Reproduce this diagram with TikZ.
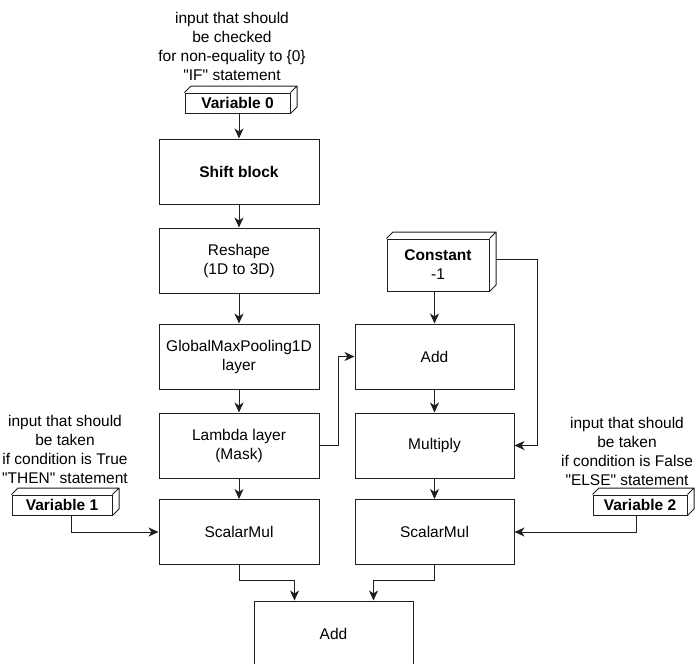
\documentclass[tikz,border=0pt]{standalone}
\usepackage{fontspec}
\setmainfont[Ligatures=TeXOff]{Liberation Sans}
\usetikzlibrary{arrows.meta}
\definecolor{ln}{RGB}{30,30,30}
\newcommand{\cubedeco}[1]{%
  \draw[ln,line width=1pt,line join=round] (#1.north west) -- ++(6.5,-6.5) -- ([shift={(6.5,-6.5)}]#1.north east) -- ([shift={(6.5,-6.5)}]#1.south east) -- (#1.south east) (#1.north east) -- ++(6.5,-6.5);}
\begin{document}
\begin{tikzpicture}[x=1pt,y=-1pt,
  font=\fontsize{15.5}{19}\selectfont,
  box/.style={draw=ln,line width=1pt,minimum width=160pt,minimum height=65pt,align=center,inner sep=0pt},
  cube/.style={draw=ln,line width=1pt,minimum height=20pt,inner sep=0pt,align=center},
  arr/.style={ln,line width=1pt,-{Stealth[length=10pt,width=9pt,inset=3pt]}},
  lbl/.style={align=center,inner sep=0pt}]
\useasboundingbox (0,0) rectangle (699,664);

% labels
\node[lbl] (t0) at (232,46) {input that should\\be checked\\for non-equality to \{0\}\\"IF" statement};
\node[lbl] (t1) at (65,449) {input that should\\be taken\\if condition is True\\"THEN" statement};
\node[lbl] (t2) at (627,451) {input that should\\be taken\\if condition is False\\"ELSE" statement};

% cuboids
\node[cube,minimum width=105pt] (v0) at (237.5,103) {\textbf{Variable 0}};
\cubedeco{v0}
\node[cube,minimum width=100pt] (v1) at (62,505) {\textbf{Variable 1}};
\cubedeco{v1}
\node[cube,minimum width=94pt] (v2) at (640,505) {\textbf{Variable 2}};
\cubedeco{v2}
\node[cube,minimum width=102pt,minimum height=52pt] (const) at (438,265) {\textbf{Constant}\\-1};
\cubedeco{const}

% left column
\node[box] (shift) at (239,171.5) {\textbf{Shift block}};
\node[box] (reshape) at (239,260.5) {Reshape\\(1D to 3D)};
\node[box] (gmp) at (239,356.5) {GlobalMaxPooling1D\\layer};
\node[box] (lambda) at (239,445.5) {Lambda layer\\(Mask)};
\node[box] (sm1) at (239,532) {ScalarMul};

% right column
\node[box,minimum width=159pt] (add1) at (434.5,356.5) {Add};
\node[box,minimum width=159pt] (mult) at (434.5,445.5) {Multiply};
\node[box,minimum width=159pt] (sm2) at (434.5,532) {ScalarMul};

% bottom
\node[box,minimum width=159pt] (addb) at (333.5,633.5) {Add};

% connectors
\draw[arr] (shift.north |- v0.south) -- (shift.north);
\draw[arr] (shift) -- (reshape);
\draw[arr] (reshape) -- (gmp);
\draw[arr] (gmp) -- (lambda);
\draw[arr] (lambda) -- (sm1);
\draw[arr] (add1.north |- const.south) -- (add1.north);
\draw[arr] (add1) -- (mult);
\draw[arr] (mult) -- (sm2);
\draw[arr] ([shift={(6.5,-6)}]const.east) -- ++(41,0) |- (mult.east);
\draw[arr] (lambda.east) -- ++(19,0) |- (add1.west);
\draw[arr] ([xshift=9pt]v1.south) |- (sm1.west);
\draw[arr] ([xshift=-4pt]v2.south) |- (sm2.east);
\draw[arr] (sm1.south) -- ++(0,15) -| ([xshift=-39pt]addb.north);
\draw[arr] (sm2.south) -- ++(0,15) -| ([xshift=40pt]addb.north);
\end{tikzpicture}
\end{document}
